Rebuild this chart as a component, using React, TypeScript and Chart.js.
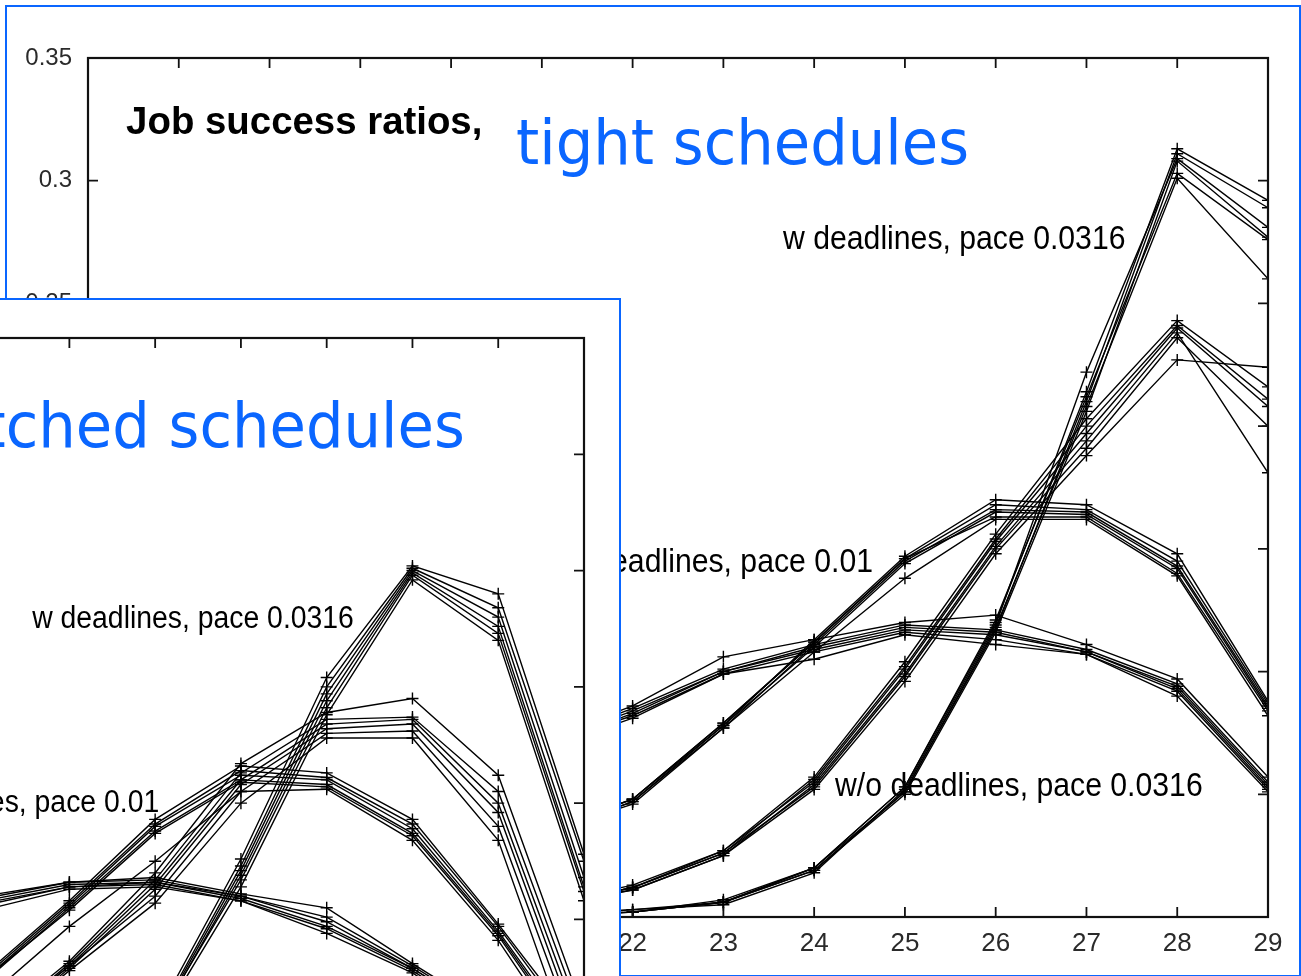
import React, { useEffect, useRef } from 'react';
import { Chart, registerables } from 'chart.js';

Chart.register(...registerables);

// ---------- data ----------
const xTicks = [16, 17, 18, 19, 20, 21, 22, 23, 24, 25, 26, 27, 28, 29];
const yTicks = [0, 0.05, 0.1, 0.15, 0.2, 0.25, 0.3, 0.35];

// back panel ("tight schedules")
const backX = [21, 22, 23, 24, 25, 26, 27, 28, 29];
const backSteep: number[][] = [
  [0.001, 0.002, 0.006, 0.020, 0.053, 0.120, 0.214, 0.313, 0.292],
  [0.000, 0.002, 0.006, 0.020, 0.051, 0.117, 0.210, 0.311, 0.289],
  [0.001, 0.003, 0.005, 0.018, 0.052, 0.119, 0.222, 0.309, 0.281],
  [0.000, 0.002, 0.006, 0.019, 0.050, 0.116, 0.206, 0.308, 0.277],
  [0.001, 0.002, 0.007, 0.020, 0.053, 0.121, 0.212, 0.303, 0.276],
  [0.000, 0.003, 0.006, 0.019, 0.051, 0.118, 0.208, 0.301, 0.260],
];
const backSecond: number[][] = [
  [0.004, 0.012, 0.027, 0.057, 0.104, 0.156, 0.203, 0.243, 0.216],
  [0.004, 0.012, 0.026, 0.056, 0.102, 0.154, 0.200, 0.241, 0.211],
  [0.005, 0.013, 0.027, 0.055, 0.101, 0.153, 0.197, 0.240, 0.208],
  [0.004, 0.011, 0.025, 0.054, 0.099, 0.151, 0.194, 0.238, 0.181],
  [0.004, 0.012, 0.026, 0.053, 0.098, 0.150, 0.191, 0.236, 0.200],
  [0.005, 0.011, 0.025, 0.052, 0.096, 0.148, 0.188, 0.227, 0.224],
];
const backHump: number[][] = [
  [0.034, 0.048, 0.078, 0.113, 0.147, 0.170, 0.168, 0.148, 0.088],
  [0.035, 0.048, 0.079, 0.112, 0.146, 0.168, 0.166, 0.145, 0.087],
  [0.034, 0.047, 0.077, 0.111, 0.145, 0.166, 0.165, 0.143, 0.086],
  [0.033, 0.047, 0.078, 0.110, 0.144, 0.165, 0.164, 0.142, 0.085],
  [0.035, 0.048, 0.079, 0.112, 0.146, 0.163, 0.163, 0.140, 0.084],
  [0.034, 0.046, 0.077, 0.108, 0.138, 0.162, 0.162, 0.139, 0.082],
];
const backFlat: number[][] = [
  [0.072, 0.086, 0.106, 0.113, 0.120, 0.123, 0.111, 0.097, 0.057],
  [0.071, 0.085, 0.101, 0.111, 0.119, 0.117, 0.109, 0.095, 0.055],
  [0.070, 0.084, 0.100, 0.110, 0.118, 0.116, 0.108, 0.094, 0.054],
  [0.069, 0.083, 0.100, 0.109, 0.117, 0.115, 0.108, 0.093, 0.053],
  [0.070, 0.082, 0.099, 0.108, 0.116, 0.113, 0.107, 0.092, 0.052],
  [0.068, 0.081, 0.099, 0.105, 0.115, 0.111, 0.107, 0.090, 0.051],
];

// front panel ("stretched schedules")
const frontX = [22, 23, 24, 25, 26, 27, 28, 29];
const frontSteep: number[][] = [
  [0.012, 0.028, 0.058, 0.126, 0.204, 0.252, 0.240, 0.128],
  [0.011, 0.027, 0.056, 0.123, 0.200, 0.251, 0.234, 0.125],
  [0.012, 0.028, 0.055, 0.121, 0.197, 0.250, 0.230, 0.118],
  [0.010, 0.026, 0.054, 0.119, 0.194, 0.249, 0.226, 0.114],
  [0.011, 0.027, 0.055, 0.117, 0.191, 0.248, 0.223, 0.112],
  [0.010, 0.025, 0.053, 0.114, 0.188, 0.246, 0.220, 0.108],
];
const frontSecond: number[][] = [
  [0.052, 0.082, 0.120, 0.167, 0.189, 0.195, 0.162, 0.060],
  [0.050, 0.081, 0.117, 0.163, 0.186, 0.187, 0.155, 0.055],
  [0.051, 0.080, 0.115, 0.160, 0.184, 0.186, 0.150, 0.050],
  [0.049, 0.079, 0.113, 0.158, 0.182, 0.184, 0.146, 0.045],
  [0.050, 0.080, 0.110, 0.155, 0.180, 0.181, 0.140, 0.040],
  [0.048, 0.078, 0.107, 0.150, 0.178, 0.178, 0.134, 0.030],
];
const frontHump: number[][] = [
  [0.076, 0.108, 0.143, 0.166, 0.163, 0.143, 0.098, 0.050],
  [0.075, 0.107, 0.141, 0.164, 0.161, 0.141, 0.097, 0.047],
  [0.074, 0.106, 0.140, 0.162, 0.160, 0.139, 0.095, 0.044],
  [0.073, 0.105, 0.138, 0.160, 0.158, 0.137, 0.094, 0.042],
  [0.074, 0.104, 0.137, 0.159, 0.157, 0.136, 0.093, 0.040],
  [0.065, 0.097, 0.125, 0.155, 0.156, 0.134, 0.091, 0.036],
];
const frontFlat: number[][] = [
  [0.110, 0.116, 0.118, 0.111, 0.105, 0.081, 0.058, 0.022],
  [0.109, 0.116, 0.117, 0.110, 0.101, 0.080, 0.057, 0.021],
  [0.108, 0.115, 0.116, 0.110, 0.099, 0.079, 0.056, 0.020],
  [0.107, 0.114, 0.116, 0.109, 0.097, 0.079, 0.055, 0.019],
  [0.106, 0.114, 0.115, 0.108, 0.096, 0.078, 0.054, 0.018],
  [0.104, 0.113, 0.114, 0.108, 0.094, 0.077, 0.053, 0.017],
];

// ---------- styles ----------
const BLUE = '#0a66ff';
const SANS = '"Liberation Sans", Arial, sans-serif';
const HAND = '"DejaVu Sans", sans-serif';

type Label = {
  text: string;
  x: number;
  y: number;
  font: string;
  sx: number;
  color: string;
  align?: 'left' | 'right';
  box?: [number, number, number, number];
};

const decorPlugin = {
  id: 'decor',
  afterDraw(chart: any, _args: any, opts: any) {
    const { ctx, chartArea: a } = chart;
    const xs = chart.scales.x;
    const ys = chart.scales.y;
    const L = opts.tickLen || 10;
    ctx.save();
    ctx.strokeStyle = '#111';
    ctx.lineWidth = 1.8;
    ctx.beginPath();
    xs.ticks.forEach((t: any) => {
      const p = xs.getPixelForValue(t.value);
      ctx.moveTo(p, a.bottom);
      ctx.lineTo(p, a.bottom - L);
      ctx.moveTo(p, a.top);
      ctx.lineTo(p, a.top + L);
    });
    ys.ticks.forEach((t: any) => {
      const p = ys.getPixelForValue(t.value);
      ctx.moveTo(a.left, p);
      ctx.lineTo(a.left + L, p);
      ctx.moveTo(a.right, p);
      ctx.lineTo(a.right - L, p);
    });
    ctx.stroke();
    ctx.lineWidth = 2.2;
    ctx.strokeRect(a.left, a.top, a.right - a.left, a.bottom - a.top);
    (opts.labels || []).forEach((l: Label) => {
      const px = xs.getPixelForValue(l.x);
      const py = ys.getPixelForValue(l.y);
      ctx.font = l.font;
      const w = ctx.measureText(l.text).width * l.sx;
      const left = l.align === 'right' ? px - w : px;
      if (l.box) {
        ctx.fillStyle = '#ffffff';
        ctx.fillRect(left - l.box[0], py - l.box[1], w + l.box[0] + l.box[2], l.box[1] + l.box[3]);
      }
      ctx.save();
      ctx.translate(left, py);
      ctx.scale(l.sx, 1);
      ctx.fillStyle = l.color;
      ctx.textAlign = 'left';
      ctx.textBaseline = 'alphabetic';
      ctx.fillText(l.text, 0, 0);
      ctx.restore();
    });
    ctx.restore();
  },
};

function buildDatasets(xs: number[], groups: number[][][]) {
  const out: any[] = [];
  groups.forEach((g) =>
    g.forEach((s) =>
      out.push({
        data: xs.map((x, i) => ({ x, y: s[i] })),
        borderColor: '#000',
        borderWidth: 1.4,
        pointStyle: 'cross',
        pointRadius: 6,
        pointBorderWidth: 1.4,
        pointBorderColor: '#000',
        pointBackgroundColor: '#000',
        fill: false,
        tension: 0,
      })
    )
  );
  return out;
}

type Cfg = {
  xs: number[];
  groups: number[][][];
  labels: Label[];
  padding: { left: number; top: number; right: number; bottom: number };
  yW: number;
  xH: number;
  yFont: number;
  xFont: number;
  yPad: number;
  xPad: number;
};

function makeConfig(c: Cfg): any {
  return {
    type: 'line',
    data: { datasets: buildDatasets(c.xs, c.groups) },
    plugins: [decorPlugin],
    options: {
      animation: false,
      responsive: false,
      devicePixelRatio: 1,
      events: [],
      layout: { padding: c.padding },
      plugins: {
        legend: { display: false },
        tooltip: { enabled: false },
        decor: { labels: c.labels, tickLen: 10 },
      },
      scales: {
        x: {
          type: 'linear',
          min: xTicks[0],
          max: xTicks[xTicks.length - 1],
          afterBuildTicks: (s: any) => {
            s.ticks = xTicks.map((v) => ({ value: v }));
          },
          afterFit: (s: any) => {
            s.height = c.xH;
          },
          grid: { display: false, drawTicks: false },
          border: { display: false },
          ticks: {
            callback: (v: any) => String(v),
            font: { family: SANS, size: c.xFont },
            color: '#2a2a2a',
            padding: c.xPad,
            autoSkip: false,
            maxRotation: 0,
          },
        },
        y: {
          type: 'linear',
          min: yTicks[0],
          max: yTicks[yTicks.length - 1],
          afterBuildTicks: (s: any) => {
            s.ticks = yTicks.map((v) => ({ value: v }));
          },
          afterFit: (s: any) => {
            s.width = c.yW;
          },
          grid: { display: false, drawTicks: false },
          border: { display: false },
          ticks: {
            callback: (v: any) => String(v),
            font: { family: SANS, size: c.yFont },
            color: '#2a2a2a',
            padding: c.yPad,
            autoSkip: false,
          },
        },
      },
    },
  };
}

const backLabels: Label[] = [
  { text: 'Job success ratios,', x: 16.42, y: 0.3190, font: `bold 38px ${SANS}`, sx: 1.01, color: '#000' },
  { text: 'tight schedules', x: 20.715, y: 0.3068, font: `62px ${HAND}`, sx: 0.955, color: BLUE, box: [24, 74, 21, 24] },
  { text: 'w deadlines, pace 0.0316', x: 23.657, y: 0.2722, font: `33px ${SANS}`, sx: 0.915, color: '#000' },
  { text: 'w/o deadlines, pace 0.01', x: 24.648, y: 0.1406, font: `33px ${SANS}`, sx: 0.915, color: '#000', align: 'right' },
  { text: 'w/o deadlines, pace 0.0316', x: 24.23, y: 0.0493, font: `33px ${SANS}`, sx: 0.915, color: '#000' },
];

const frontLabels: Label[] = [
  { text: 'Job success ratios,', x: 16.42, y: 0.3198, font: `bold 36px ${SANS}`, sx: 1.01, color: '#000' },
  { text: 'stretched schedules', x: 27.61, y: 0.3031, font: `62px ${HAND}`, sx: 0.955, color: BLUE, align: 'right', box: [20, 77, 6, 40] },
  { text: 'w deadlines, pace 0.0316', x: 22.566, y: 0.2253, font: `31px ${SANS}`, sx: 0.915, color: '#000' },
  { text: 'w/o deadlines, pace 0.01', x: 24.047, y: 0.1462, font: `31px ${SANS}`, sx: 0.915, color: '#000', align: 'right' },
  { text: 'w/o deadlines, pace 0.0316', x: 24.23, y: 0.0493, font: `31px ${SANS}`, sx: 0.915, color: '#000' },
];

function ChartCanvas(props: { width: number; height: number; config: () => any }) {
  const ref = useRef<HTMLCanvasElement>(null);
  useEffect(() => {
    const chart = new Chart(ref.current as HTMLCanvasElement, props.config());
    return () => chart.destroy();
  }, []);
  return (
    <canvas
      ref={ref}
      width={props.width}
      height={props.height}
      style={{ position: 'absolute', left: 0, top: 0, width: props.width, height: props.height }}
    />
  );
}

export default function App() {
  const backConfig = () =>
    makeConfig({
      xs: backX,
      groups: [backSteep, backSecond, backHump, backFlat],
      labels: backLabels,
      padding: { left: 18, top: 58, right: 33, bottom: 9 },
      yW: 70,
      xH: 50,
      yFont: 24,
      xFont: 26,
      yPad: 16,
      xPad: 11,
    });
  const frontConfig = () =>
    makeConfig({
      xs: frontX,
      groups: [frontSteep, frontSecond, frontHump, frontFlat],
      labels: frontLabels,
      padding: { left: 13, top: 38, right: 35, bottom: 21 },
      yW: 66,
      xH: 48,
      yFont: 23,
      xFont: 25,
      yPad: 15,
      xPad: 10,
    });
  return (
    <div
      style={{
        position: 'fixed',
        left: 0,
        top: 0,
        width: 1301,
        height: 976,
        overflow: 'hidden',
        background: '#fff',
      }}
    >
      <div
        style={{
          position: 'absolute',
          left: 5,
          top: 5,
          width: 1296,
          height: 972,
          border: `2px solid ${BLUE}`,
          boxSizing: 'border-box',
          background: '#fff',
        }}
      />
      <div style={{ position: 'absolute', left: 0, top: 0, width: 1301, height: 976 }}>
        <ChartCanvas width={1301} height={976} config={backConfig} />
      </div>
      <div
        style={{
          position: 'absolute',
          left: -612,
          top: 298,
          width: 1233,
          height: 925,
          border: `2px solid ${BLUE}`,
          boxSizing: 'border-box',
          background: '#fff',
          overflow: 'hidden',
        }}
      >
        <ChartCanvas width={1229} height={921} config={frontConfig} />
      </div>
    </div>
  );
}
